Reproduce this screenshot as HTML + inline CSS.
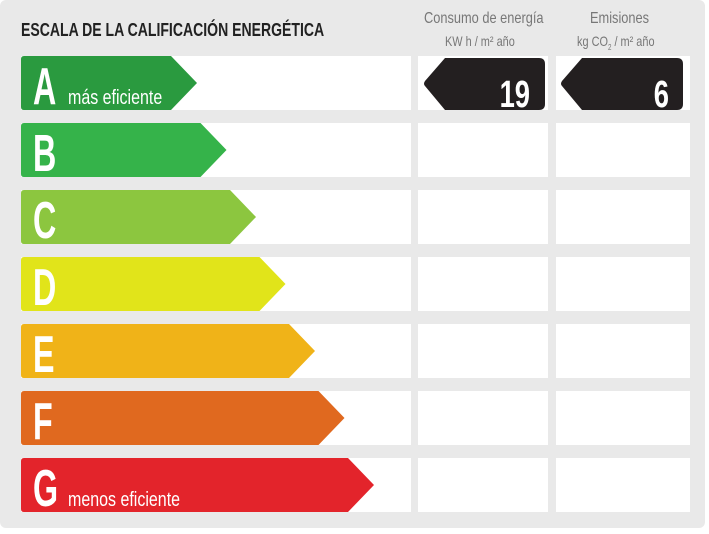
<!DOCTYPE html>
<html><head><meta charset="utf-8"><style>
body{margin:0;width:709px;height:534px;background:#fff;overflow:hidden;font-family:"Liberation Sans",sans-serif}
#bg{position:absolute;left:0;top:0;width:705px;height:528px;background:#e9e9e9;border-radius:6px}
.t{position:absolute;white-space:nowrap;transform-origin:0 0}
</style></head><body>
<div id="bg"></div>
<div class="t" style="left:21px;top:20px;font-size:18px;font-weight:bold;color:#222;transform:scaleX(0.78)">ESCALA DE LA CALIFICACIÓN ENERGÉTICA</div>
<div class="t" style="left:424px;top:10px;font-size:16px;color:#777;transform:scaleX(0.8)">Consumo de energía</div>
<div class="t" style="left:445px;top:33px;font-size:14px;color:#777;transform:scaleX(0.78)">KW h / m² año</div>
<div class="t" style="left:590px;top:10px;font-size:16px;color:#777;transform:scaleX(0.8)">Emisiones</div>
<div class="t" style="left:577px;top:33px;font-size:14px;color:#777;transform:scaleX(0.78)">kg CO<sub style="font-size:8px">2</sub> / m² año</div>
<svg width="709" height="534" style="position:absolute;left:0;top:0">
<g id="rows"></g>
</svg>
<script>
var cols=["#2a9a3f","#35b34a","#8cc63f","#e1e41a","#f0b318","#e0691f","#e3242b"];
var L="ABCDEFG";var s='';
for(var i=0;i<7;i++){var y=56+i*67,h=54,tip=197+i*29.5,b=tip-26;
s+='<rect x="21" y="'+y+'" width="390" height="'+h+'" fill="#fff"/>';
s+='<rect x="418" y="'+y+'" width="130" height="'+h+'" fill="#fff"/>';
s+='<rect x="556" y="'+y+'" width="134" height="'+h+'" fill="#fff"/>';
s+='<path d="M24 '+y+' H'+b+' L'+tip+' '+(y+h/2)+' L'+b+' '+(y+h)+' H24 Q21 '+(y+h)+' 21 '+(y+h-3)+' V'+(y+3)+' Q21 '+y+' 24 '+y+'Z" fill="'+cols[i]+'"/>';
s+='<text x="33" y="'+(y+48)+'" font-family="Liberation Sans" font-weight="bold" font-size="52" fill="#fff" transform="translate(33 0) scale(0.62 1) translate(-33 0)">'+L[i]+'</text>';
}
s+='<text x="68" y="104" font-family="Liberation Sans" font-size="20" fill="#fff" transform="translate(68 0) scale(0.8 1) translate(-68 0)">más eficiente</text>';
s+='<text x="68" y="506" font-family="Liberation Sans" font-size="20" fill="#fff" transform="translate(68 0) scale(0.8 1) translate(-68 0)">menos eficiente</text>';
s+='<path d="M445 58 H539 Q545 58 545 64 V104 Q545 110 539 110 H445 L425 86 Q423 84 425 81 Z" fill="#231f20"/>';
s+='<path d="M582 58 H677 Q683 58 683 64 V104 Q683 110 677 110 H582 L562 86 Q560 84 562 81 Z" fill="#231f20"/>';
s+='<text x="530" y="107" text-anchor="end" font-family="Liberation Sans" font-weight="bold" font-size="38" fill="#fff" transform="translate(530 0) scale(0.72 1) translate(-530 0)">19</text>';
s+='<text x="669" y="107" text-anchor="end" font-family="Liberation Sans" font-weight="bold" font-size="38" fill="#fff" transform="translate(669 0) scale(0.72 1) translate(-669 0)">6</text>';
document.getElementById('rows').innerHTML=s;
</script>
</body></html>
